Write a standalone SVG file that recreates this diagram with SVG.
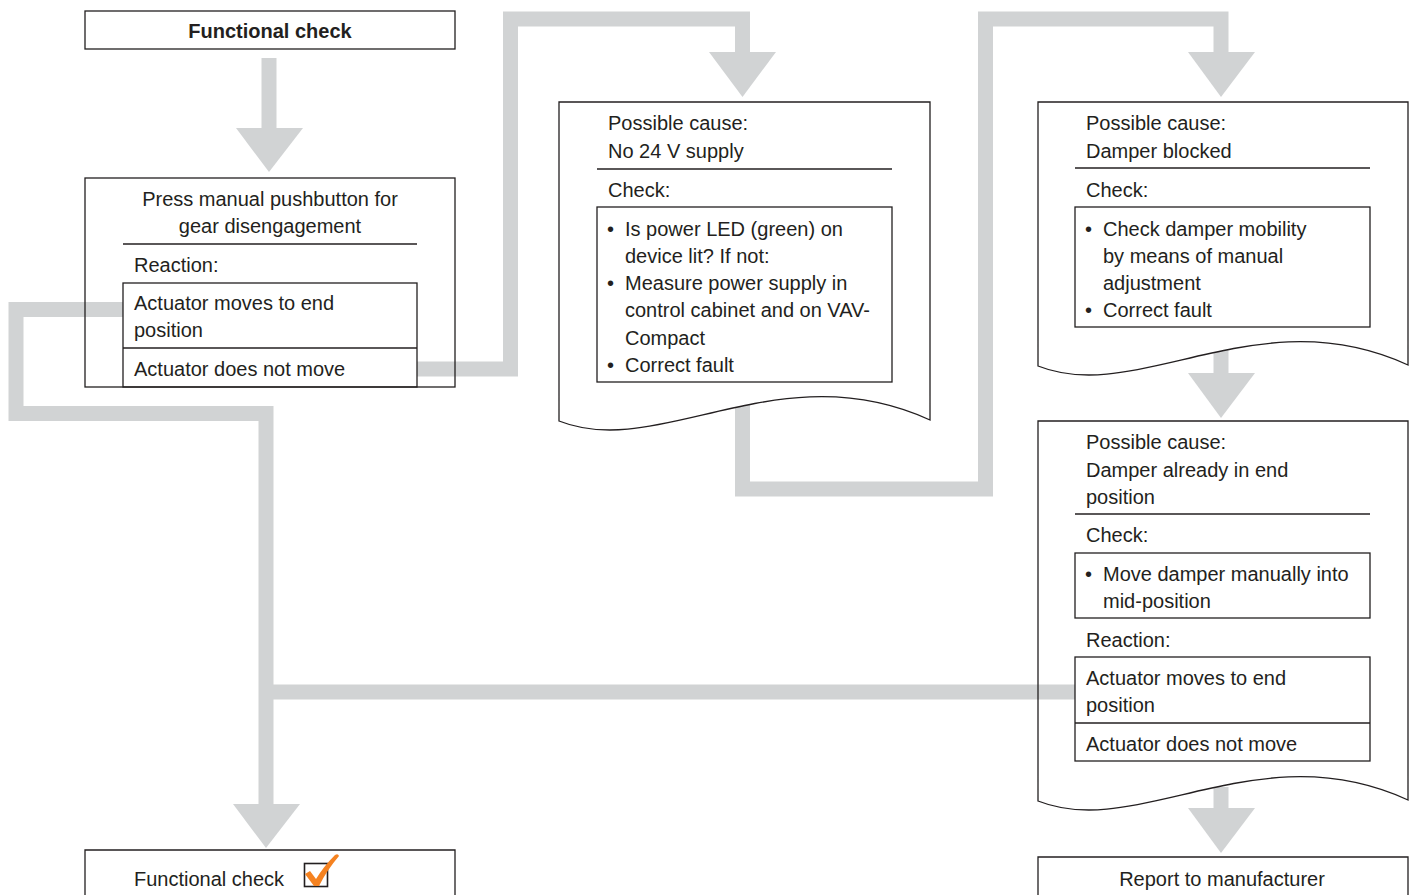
<svg xmlns="http://www.w3.org/2000/svg" width="1415" height="895" viewBox="0 0 1415 895">
<style>
.bar{fill:none;stroke:#d1d3d4;stroke-width:15;stroke-linejoin:miter;stroke-linecap:butt}
.head{fill:#d1d3d4}
.box{fill:#fff;stroke:#231f20;stroke-width:1.3}
.open{fill:none;stroke:#231f20;stroke-width:1.3}
.ln{stroke:#231f20;stroke-width:1.3}
text{font-family:"Liberation Sans",Arial,sans-serif;font-size:20px;fill:#231f20}
.b{font-weight:bold}
.c{text-anchor:middle}
</style>
<rect width="1415" height="895" fill="#fff"/>
<g id="connectors">
<line class="bar" x1="269" y1="58" x2="269" y2="132"/>
<polygon class="head" points="236,128 303,128 269,172"/>
<polyline class="bar" points="417,369 510.5,369 510.5,19 742.5,19 742.5,56"/>
<polygon class="head" points="709,52 776,52 742.5,97"/>
<polyline class="bar" points="742.5,400 742.5,489 985.5,489 985.5,19 1221,19 1221,56"/>
<polygon class="head" points="1188,52 1255,52 1221,97"/>
<line class="bar" x1="1221" y1="345" x2="1221" y2="377"/>
<polygon class="head" points="1188,373 1255,373 1221,418"/>
<polyline class="bar" points="123,309.5 16,309.5 16,413.5 266,413.5 266,808"/>
<polygon class="head" points="233,804 300,804 266,848"/>
<line class="bar" x1="1075" y1="692" x2="266" y2="692"/>
<line class="bar" x1="1221" y1="787" x2="1221" y2="812"/>
<polygon class="head" points="1188,808 1255,808 1221,853"/>
</g>
<g id="start">
<rect class="box" x="85" y="11" width="370" height="38"/>
<text class="b c" x="270" y="38">Functional check</text>
</g>
<g id="press">
<rect class="open" x="85" y="178" width="370" height="209"/>
<text class="c" x="270" y="206">Press manual pushbutton for</text>
<text class="c" x="270" y="233">gear disengagement</text>
<line class="ln" x1="123" y1="244" x2="417" y2="244"/>
<text x="134" y="272">Reaction:</text>
<rect class="open" x="123" y="283" width="294" height="104"/>
<line class="ln" x1="123" y1="348" x2="417" y2="348"/>
<text x="134" y="310">Actuator moves to end</text>
<text x="134" y="337">position</text>
<text x="134" y="376">Actuator does not move</text>
</g>
<g id="cause-supply">
<path class="box" d="M559,421 V102 H930 V420 C779,351 659,461 559,421 Z"/>
<text x="608" y="130">Possible cause:</text>
<text x="608" y="158">No 24 V supply</text>
<line class="ln" x1="597" y1="169" x2="892" y2="169"/>
<text x="608" y="197">Check:</text>
<rect class="open" x="597" y="207" width="295" height="175"/>
<text x="607" y="236">•</text><text x="625" y="236">Is power LED (green) on</text>
<text x="625" y="263">device lit? If not:</text>
<text x="607" y="290">•</text><text x="625" y="290">Measure power supply in</text>
<text x="625" y="317">control cabinet and on VAV-</text>
<text x="625" y="345">Compact</text>
<text x="607" y="372">•</text><text x="625" y="372">Correct fault</text>
</g>
<g id="cause-blocked">
<path class="box" d="M1038,366 V102 H1408 V365 C1258,296 1138,406 1038,366 Z"/>
<text x="1086" y="130">Possible cause:</text>
<text x="1086" y="158">Damper blocked</text>
<line class="ln" x1="1075" y1="168" x2="1370" y2="168"/>
<text x="1086" y="197">Check:</text>
<rect class="open" x="1075" y="207" width="295" height="120"/>
<text x="1085" y="236">•</text><text x="1103" y="236">Check damper mobility</text>
<text x="1103" y="263">by means of manual</text>
<text x="1103" y="290">adjustment</text>
<text x="1085" y="317">•</text><text x="1103" y="317">Correct fault</text>
</g>
<g id="cause-endpos">
<path class="open" d="M1038,801 V421 H1408 V800 C1258,731 1138,841 1038,801 Z"/>
<text x="1086" y="449">Possible cause:</text>
<text x="1086" y="477">Damper already in end</text>
<text x="1086" y="504">position</text>
<line class="ln" x1="1075" y1="514" x2="1370" y2="514"/>
<text x="1086" y="542">Check:</text>
<rect class="open" x="1075" y="553" width="295" height="65"/>
<text x="1085" y="581">•</text><text x="1103" y="581">Move damper manually into</text>
<text x="1103" y="608">mid-position</text>
<text x="1086" y="647">Reaction:</text>
<rect class="open" x="1075" y="657" width="295" height="104"/>
<line class="ln" x1="1075" y1="723" x2="1370" y2="723"/>
<text x="1086" y="685">Actuator moves to end</text>
<text x="1086" y="712">position</text>
<text x="1086" y="751">Actuator does not move</text>
</g>
<g id="report">
<path class="box" d="M1038,900 V857 H1408 V900"/>
<text class="c" x="1222" y="886">Report to manufacturer</text>
</g>
<g id="done">
<path class="box" d="M85,900 V850 H455 V900"/>
<text x="134" y="886">Functional check</text>
<rect x="304.5" y="863.5" width="23" height="23" fill="none" stroke="#231f20" stroke-width="1.6"/>
<path d="M305,874 L310,871 L316,879 Q324,866 335,855 Q338,853 339,856 Q327,870 319,886 L314,886 Z" fill="#f58220"/>
</g>
</svg>
